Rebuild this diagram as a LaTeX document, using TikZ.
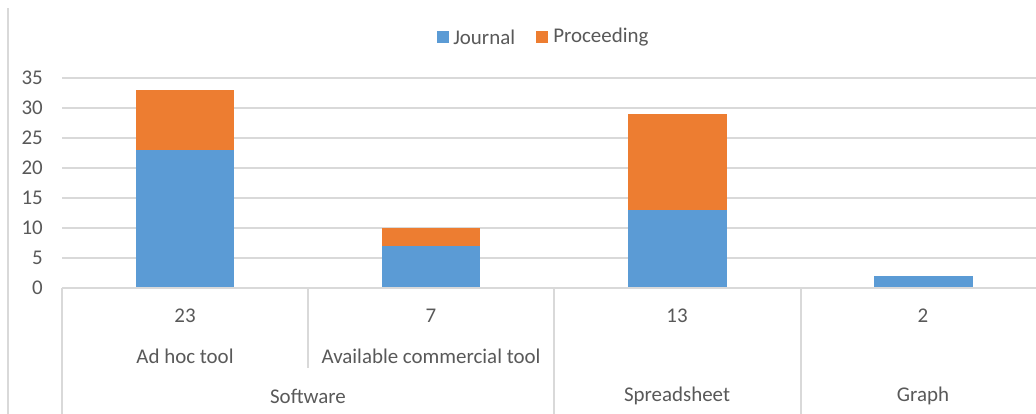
\documentclass[tikz,border=0pt]{standalone}
\usepackage{fontspec}
\setmainfont{Carlito}
\usetikzlibrary{positioning}
\definecolor{journalColor}{HTML}{5B9BD5}
\definecolor{proceedingColor}{HTML}{ED7D31}
\definecolor{gridColor}{HTML}{D9D9D9}
\definecolor{textColor}{HTML}{595959}

\tikzset{
  lbl/.style={text=textColor, inner sep=0pt, font=\fontsize{15.7}{18}\selectfont},
  grid line/.style={draw=gridColor, line width=1pt},
}

\begin{document}
\begin{tikzpicture}[x=0.75pt, y=-0.75pt]
      \useasboundingbox (0,0) rectangle (1036,414);
      \fill[white] (0,0) rectangle (1036,414);
      \draw[grid line] (8,8) -- (8,414);

      % gridlines and value axis
      \draw[grid line] (62,78) -- (1036,78);
      \draw[grid line] (62,108) -- (1036,108);
      \draw[grid line] (62,138) -- (1036,138);
      \draw[grid line] (62,168) -- (1036,168);
      \draw[grid line] (62,198) -- (1036,198);
      \draw[grid line] (62,228) -- (1036,228);
      \draw[grid line] (62,258) -- (1036,258);
      \node[lbl, anchor=east] (y35) at (43,78) {35};
      \node[lbl, anchor=east] (y30) at (43,108) {30};
      \node[lbl, anchor=east] (y25) at (43,138) {25};
      \node[lbl, anchor=east] (y20) at (43,168) {20};
      \node[lbl, anchor=east] (y15) at (43,198) {15};
      \node[lbl, anchor=east] (y10) at (43,228) {10};
      \node[lbl, anchor=east] (y5) at (43,258) {5};
      \node[lbl, anchor=east] (y0) at (43,288) {0};

      % bars
      \fill[journalColor] (136,150) rectangle (234,288);
      \fill[proceedingColor] (136,90) rectangle (234,150);
      \fill[journalColor] (382,246) rectangle (480,288);
      \fill[proceedingColor] (382,228) rectangle (480,246);
      \fill[journalColor] (628,210) rectangle (727,288);
      \fill[proceedingColor] (628,114) rectangle (727,210);
      \fill[journalColor] (874,276) rectangle (973,288);

      % category axis
      \draw[grid line] (62,288) -- (1036,288);
      \draw[grid line] (62,288) -- (62,414);
      \draw[grid line] (308,288) -- (308,368);
      \draw[grid line] (554,288) -- (554,414);
      \draw[grid line] (801,288) -- (801,414);

      \node[lbl] (n23) at (185,316) {23};
      \node[lbl] (n7) at (431,316) {7};
      \node[lbl] (n13) at (677,316) {13};
      \node[lbl] (n2) at (923,316) {2};
      \node[lbl] (adhoc) at (185,356) {Ad hoc tool};
      \node[lbl] (avail) at (431,356) {Available commercial tool};
      \node[lbl] (soft) at (308,396) {Software};
      \node[lbl] (sheet) at (677,396) {Spreadsheet};
      \node[lbl] (graph) at (923,396) {Graph};

      % legend
      \fill[journalColor] (437,31) rectangle (449,43);
      \node[lbl, anchor=west] (journal) at (453,37) {Journal};
      \fill[proceedingColor] (536,31) rectangle (548,43);
      \node[lbl, anchor=west] (proceeding) at (553,37) {Proceeding};
    \end{tikzpicture}
\end{document}
